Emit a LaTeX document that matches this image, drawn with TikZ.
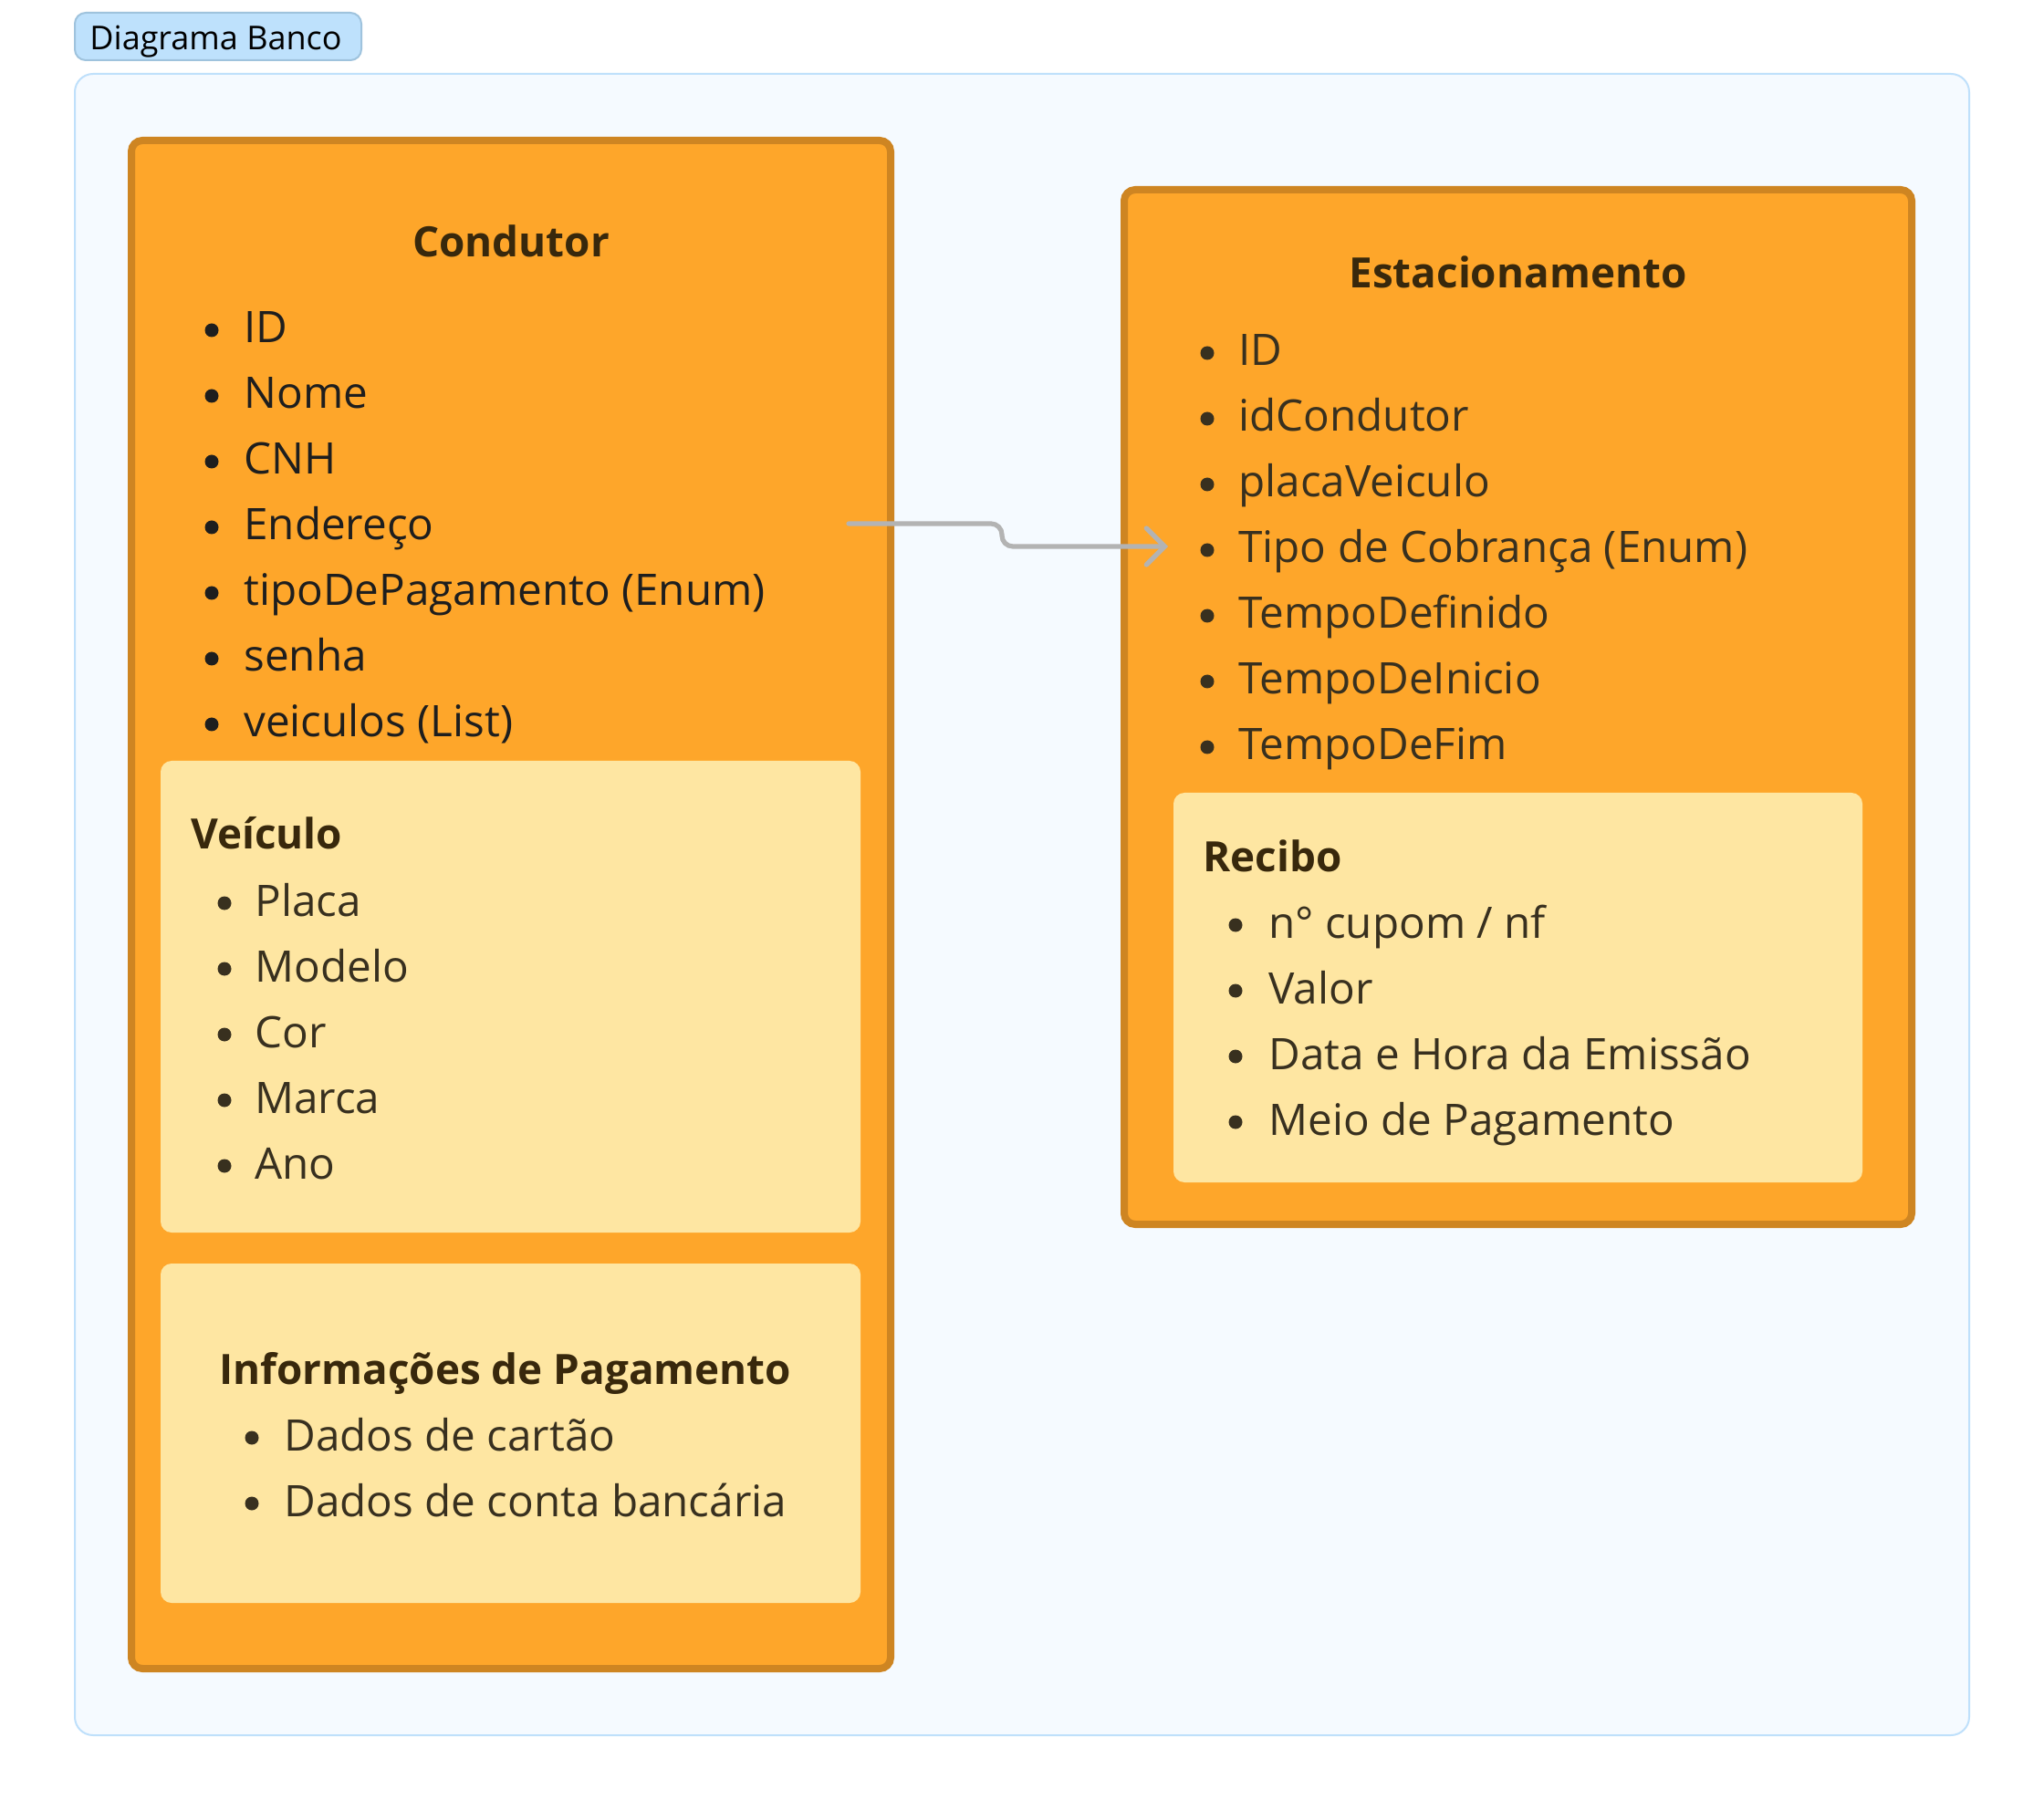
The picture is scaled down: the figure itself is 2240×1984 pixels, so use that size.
\documentclass[tikz,border=0pt]{standalone}
\usepackage{fontspec}
\setmainfont{Open Sans}
\usetikzlibrary{arrows.meta}
\definecolor{orangefill}{HTML}{FEA62A}
\definecolor{orangeline}{HTML}{CE8522}
\definecolor{yellowfill}{HTML}{FEE6A2}
\definecolor{bgfill}{HTML}{F5FAFF}
\definecolor{bgline}{HTML}{BFE0FB}
\definecolor{tabfill}{HTML}{BEE1FC}
\definecolor{tabline}{HTML}{9FC3DD}
\definecolor{arrowgray}{HTML}{B3B3B3}
\definecolor{itemtext}{HTML}{1E1E1E}
\definecolor{titletext}{HTML}{38280C}
\definecolor{subtext}{HTML}{38301F}
\tikzset{
  panel/.style={inner sep=0pt, outer sep=0pt},
  outerbox/.style={panel, draw=orangeline, fill=orangefill, line width=4pt, rounded corners=6pt},
  innerbox/.style={panel, fill=yellowfill, rounded corners=6pt},
  itemtxt/.style={anchor=base west, inner sep=0pt, font=\fontsize{23.8}{28}\selectfont},
  titletxt/.style={anchor=base, inner sep=0pt, text=titletext, font=\bfseries\fontsize{22.9}{27}\selectfont}
}
\begin{document}
\begin{tikzpicture}[x=0.5pt,y=-0.5pt]
\useasboundingbox (0,0) rectangle (2240,1984);
\fill[white] (0,0) rectangle (2240,1984);

% container and tab
\node[panel, draw=bgline, fill=bgfill, line width=1pt, rounded corners=10pt,
  minimum width=1038pt, minimum height=910.5pt] (container) at (1120,991.5) {};
\node[panel, draw=tabline, fill=tabfill, line width=1pt, rounded corners=6pt,
  minimum width=157pt, minimum height=26pt] (tab) at (239,40) {};
\node[anchor=base west, inner sep=0pt, font=\fontsize{18}{21}\selectfont] (tabtext) at (98,55) {Diagrama Banco};

% main boxes
\node[outerbox, minimum width=416pt, minimum height=837.5pt] (condutor) at (560,991.5) {};
\node[outerbox, minimum width=431.5pt, minimum height=567pt] (estac) at (1663.5,775) {};
\node[innerbox, minimum width=383.5pt, minimum height=258.5pt] (veiculo) at (559.5,1092.5) {};
\node[innerbox, minimum width=383.5pt, minimum height=186pt] (pagamento) at (559.5,1571) {};
\node[innerbox, minimum width=377.5pt, minimum height=213.5pt] (recibo) at (1663.5,1082.5) {};

% Condutor
\node[titletxt] (condtitle) at (560,282) {Condutor};
\foreach \t [count=\i] in {ID,Nome,CNH,Endereço,tipoDePagamento (Enum),senha,veiculos (List)}{
  \fill[itemtext] (232,{376+72*(\i-1)-14}) circle (7.5);
  \node[itemtxt, text=itemtext] (cond\i) at (267,{376+72*(\i-1)}) {\t};
}

% Veiculo
\node[titletxt, anchor=base west] (veictitle) at (209,930) {Veículo};
\foreach \t [count=\i] in {Placa,Modelo,Cor,Marca,Ano}{
  \fill[subtext] (246,{1004+72*(\i-1)-14}) circle (7.5);
  \node[itemtxt, text=subtext] (veic\i) at (279,{1004+72*(\i-1)}) {\t};
}

% Pagamento
\node[titletxt, anchor=base west] (pagtitle) at (240,1517) {Informações de Pagamento};
\foreach \t [count=\i] in {Dados de cartão,Dados de conta bancária}{
  \fill[subtext] (276,{1590+72*(\i-1)-14}) circle (7.5);
  \node[itemtxt, text=subtext] (pag\i) at (311,{1590+72*(\i-1)}) {\t};
}

% Estacionamento
\node[titletxt] (estactitle) at (1663.5,316) {Estacionamento};
\foreach \t [count=\i] in {ID,idCondutor,placaVeiculo,Tipo de Cobrança (Enum),TempoDefinido,TempoDeInicio,TempoDeFim}{
  \fill[subtext] (1323,{401+72*(\i-1)-14}) circle (7.5);
  \node[itemtxt, text=subtext] (est\i) at (1357,{401+72*(\i-1)}) {\t};
}

% Recibo
\node[titletxt, anchor=base west] (recibotitle) at (1318,955) {Recibo};
\foreach \t [count=\i] in {n° cupom / nf,Valor,Data e Hora da Emissão,Meio de Pagamento}{
  \fill[subtext] (1354,{1028+72*(\i-1)-14}) circle (7.5);
  \node[itemtxt, text=subtext] (rec\i) at (1390,{1028+72*(\i-1)}) {\t};
}

% connector
\coordinate (arrstart) at (930,574);
\coordinate (arrend) at (1280,599);
\draw[arrowgray, line width=2.6pt, line cap=round, rounded corners=6pt,
  -{Straight Barb[length=10pt,width=20pt,line cap=round]}]
  (arrstart) -- (1098,574) -- (1098,599) -- (arrend);
\end{tikzpicture}
\end{document}
